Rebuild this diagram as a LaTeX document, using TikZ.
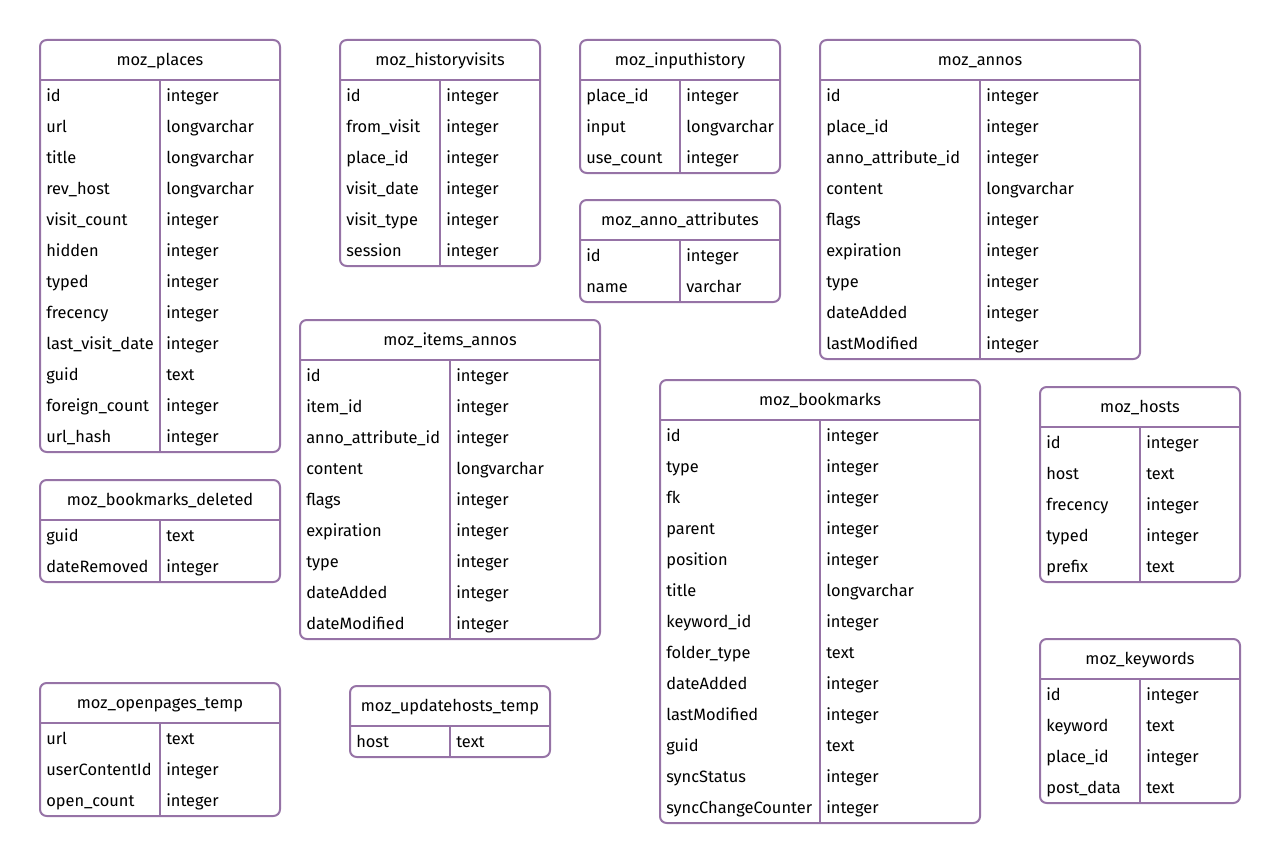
\documentclass[tikz,border=0pt]{standalone}
\usepackage{fontspec}
\setmainfont{Fira Sans}
\usepackage{tikz}
\usetikzlibrary{calc}
\definecolor{tableborder}{HTML}{9673A6}
\newcommand{\rowheight}{31}
\tikzset{tableline/.style={draw=tableborder,line width=1.5pt},
	tableframe/.style={tableline,rounded corners=5},
	tabletitle/.style={inner sep=0pt,anchor=base,font=\fontsize{12.3}{14}\selectfont},
	fieldtext/.style={inner sep=0pt,anchor=base west,font=\fontsize{12.3}{14}\selectfont}}

% #1 name, #2 left, #3 top, #4 right, #5 split, #6 rows, #7 title, #8 fields
\newcommand{\dbtable}[8]{%
	\node [tabletitle] (#1) at ({(#2+#4)/2},#3+25.5) {#7};
	\draw [tableline] (#2,#3+40) -- (#4,#3+40);
	\draw [tableline] (#5,#3+40) -- (#5,{#3+40+\rowheight*#6});
	\foreach \field/\type [count=\i] in {#8}{
		\node [fieldtext] (#1-f\i) at (#2+6,{#3+40+\rowheight*\i-9.8}) {\field};
		\node [fieldtext] (#1-t\i) at (#5+6,{#3+40+\rowheight*\i-9.8}) {\type};
	}
	\draw [tableframe] (#2,#3) rectangle (#4,{#3+40+\rowheight*#6});
}

\begin{document}
\begin{tikzpicture}[x=0.75pt,y=-0.75pt]

	\useasboundingbox (0,0) rectangle (1280,863);

	\dbtable{places}{40}{40}{280}{160}{12}{moz\_places}{id/integer,
		url/longvarchar, title/longvarchar, rev\_host/longvarchar,
		visit\_count/integer, hidden/integer, typed/integer,
		frecency/integer, last\_visit\_date/integer, guid/text,
		foreign\_count/integer, url\_hash/integer}

	\dbtable{historyvisits}{340}{40}{540}{440}{6}{moz\_historyvisits}{id/integer,
		from\_visit/integer, place\_id/integer, visit\_date/integer,
		visit\_type/integer, session/integer}

	\dbtable{inputhistory}{580}{40}{780}{680}{3}{moz\_inputhistory}{place\_id/integer,
		input/longvarchar, use\_count/integer}

	\dbtable{annoattributes}{580}{200}{780}{680}{2}{moz\_anno\_attributes}{id/integer,
		name/varchar}

	\dbtable{annos}{820}{40}{1140}{980}{9}{moz\_annos}{id/integer,
		place\_id/integer, anno\_attribute\_id/integer, content/longvarchar,
		flags/integer, expiration/integer, type/integer,
		dateAdded/integer, lastModified/integer}

	\dbtable{itemsannos}{300}{320}{600}{450}{9}{moz\_items\_annos}{id/integer,
		item\_id/integer, anno\_attribute\_id/integer, content/longvarchar,
		flags/integer, expiration/integer, type/integer,
		dateAdded/integer, dateModified/integer}

	\dbtable{bookmarks}{660}{380}{980}{820}{13}{moz\_bookmarks}{id/integer,
		type/integer, fk/integer, parent/integer, position/integer,
		title/longvarchar, keyword\_id/integer, folder\_type/text,
		dateAdded/integer, lastModified/integer, guid/text,
		syncStatus/integer, syncChangeCounter/integer}

	\dbtable{hosts}{1040}{387}{1240}{1140}{5}{moz\_hosts}{id/integer,
		host/text, frecency/integer, typed/integer, prefix/text}

	\dbtable{keywords}{1040}{639}{1240}{1140}{4}{moz\_keywords}{id/integer,
		keyword/text, place\_id/integer, post\_data/text}

	\dbtable{bookmarksdeleted}{40}{480}{280}{160}{2}{moz\_bookmarks\_deleted}{guid/text,
		dateRemoved/integer}

	\dbtable{openpages}{40}{683}{280}{160}{3}{moz\_openpages\_temp}{url/text,
		userContentId/integer, open\_count/integer}

	\dbtable{updatehosts}{350}{686}{550}{450}{1}{moz\_updatehosts\_temp}{host/text}

\end{tikzpicture}
\end{document}
